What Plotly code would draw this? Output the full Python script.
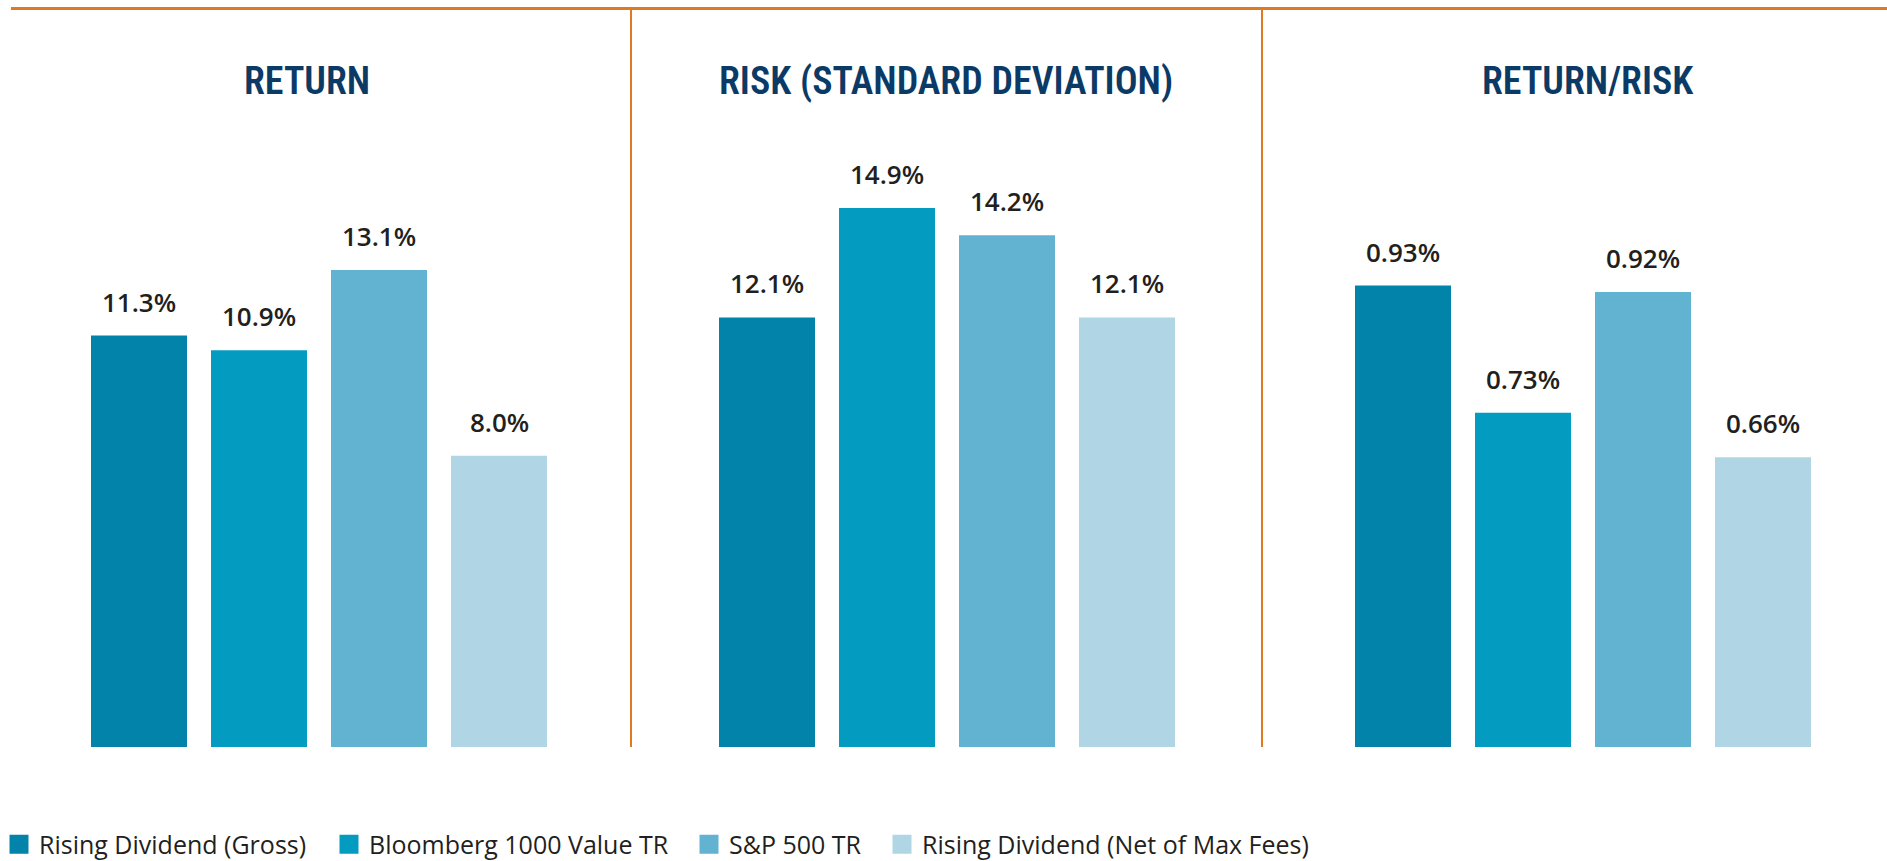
import plotly.graph_objects as go

# ---------------- data ----------------
series = ["Rising Dividend (Gross)", "Bloomberg 1000 Value TR",
          "S&P 500 TR", "Rising Dividend (Net of Max Fees)"]
colors = ["#0284AA", "#039BBF", "#62B3D1", "#B0D6E6"]
panel_titles = ["RETURN", "RISK (STANDARD DEVIATION)", "RETURN/RISK"]
return_vals = [11.3, 10.9, 13.1, 8.0]
risk_vals = [12.1, 14.9, 14.2, 12.1]
ratio_vals = [0.93, 0.73, 0.92, 0.66]
return_labels = ["11.3%", "10.9%", "13.1%", "8.0%"]
risk_labels = ["12.1%", "14.9%", "14.2%", "12.1%"]
ratio_labels = ["0.93%", "0.73%", "0.92%", "0.66%"]

panels = [(return_vals, return_labels), (risk_vals, risk_labels), (ratio_vals, ratio_labels)]

# ---------------- geometry (pixels) ----------------
W, H = 1887, 861
def px(x):
    return x / W
def py(y):
    return 1 - y / H

panel_domains_px = [(79, 559), (707, 1187), (1343, 1823)]
y_top_px, y_base_px = 100, 747
y_ranges = [[0, 17.77], [1.12, 17.66], [0.204, 1.222]]
title_x_px = [306.5, 946, 1588]
title_y_px = 81
ORANGE = "#DE7A22"
NAVY = "#0B3A66"
TEXT = "#231F20"

fig = go.Figure()
annotations = []
for i, (vals, labels) in enumerate(panels):
    ax = "" if i == 0 else str(i + 1)
    for j, name in enumerate(series):
        fig.add_trace(go.Bar(
            x=[name], y=[vals[j]], width=0.8,
            marker=dict(color=colors[j], line=dict(width=0)),
            xaxis="x" + ax, yaxis="y" + ax, showlegend=False,
            name=name, hovertemplate=labels[j] + "<extra>" + name + "</extra>"))
        annotations.append(dict(
            x=name, y=vals[j], xref="x" + ax, yref="y" + ax,
            text=labels[j], showarrow=False, yanchor="bottom", yshift=14,
            font=dict(family="Open Sans, Noto Sans, sans-serif", size=26,
                      color=TEXT, weight=600)))
    annotations.append(dict(
        x=px(title_x_px[i]), y=py(title_y_px), xref="paper", yref="paper",
        text=panel_titles[i], showarrow=False, xanchor="center", yanchor="middle",
        font=dict(family="Liberation Sans Narrow, Roboto Condensed, DejaVu Sans Condensed, Roboto, sans-serif",
                  size=38, color=NAVY, weight=600)))
    d0, d1 = panel_domains_px[i]
    fig.update_layout(**{
        "xaxis" + ax: dict(domain=[px(d0), px(d1)], range=[-0.5, 3.5], type="category",
                           categoryorder="array", categoryarray=series,
                           visible=False, fixedrange=True, anchor="y" + ax),
        "yaxis" + ax: dict(domain=[py(y_base_px), py(y_top_px)], range=y_ranges[i],
                           visible=False, fixedrange=True, anchor="x" + ax),
    })

# legend entries (one legend per series so each sits at its own position)
legend_text_start_px = [39, 369, 729, 922]
legend_layouts = {}
for j, name in enumerate(series):
    key = "legend" if j == 0 else "legend%d" % (j + 1)
    fig.add_trace(go.Scatter(
        x=[None], y=[None], mode="markers", name=name,
        marker=dict(symbol="square", size=16, color=colors[j],
                    line=dict(color=colors[j], width=3)),
        legend=key, showlegend=True, hoverinfo="skip"))
    legend_layouts[key] = dict(
        orientation="h", x=px(legend_text_start_px[j] - 40), xanchor="left",
        y=py(844.5), yanchor="middle", bgcolor="rgba(0,0,0,0)", borderwidth=0,
        font=dict(family="Open Sans, Noto Sans, sans-serif", size=25, color=TEXT),
        itemclick=False, itemdoubleclick=False)

shapes = [
    dict(type="line", xref="paper", yref="paper", x0=px(11), x1=1, y0=py(8.5), y1=py(8.5),
         line=dict(color=ORANGE, width=3)),
    dict(type="line", xref="paper", yref="paper", x0=px(631), x1=px(631), y0=py(747), y1=py(8.5),
         line=dict(color=ORANGE, width=2)),
    dict(type="line", xref="paper", yref="paper", x0=px(1262), x1=px(1262), y0=py(747), y1=py(8.5),
         line=dict(color=ORANGE, width=2)),
]

fig.update_layout(
    width=W, height=H, margin=dict(l=0, r=0, t=0, b=0, pad=0, autoexpand=False),
    paper_bgcolor="white", plot_bgcolor="white",
    barmode="overlay", bargap=0.2,
    annotations=annotations, shapes=shapes,
    **legend_layouts,
)

fig.write_html("out.html", config={"displayModeBar": False, "responsive": False},
               post_script="document.body.style.margin='0';document.body.style.overflow='hidden';")
